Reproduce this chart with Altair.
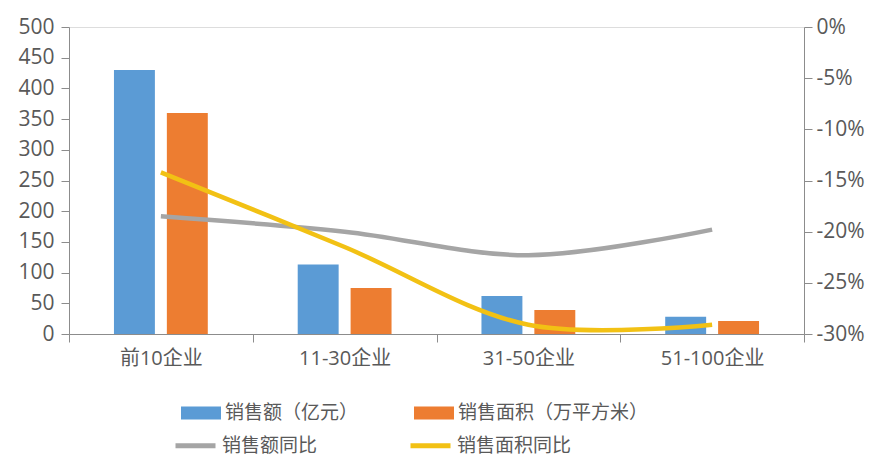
import altair as alt
import pandas as pd

categories = ["前10企业", "11-30企业", "31-50企业", "51-100企业"]
sales_amount = [430, 113, 62, 28]
sales_area = [360, 75, 39, 21]
amount_yoy = [-18.5, -20.0, -22.3, -19.8]
area_yoy = [-14.2, -21.5, -29.1, -29.1]

bar_series = ["销售额（亿元）", "销售面积（万平方米）"]
line_series = ["销售额同比", "销售面积同比"]

bars = pd.DataFrame(
    [{"cat": c, "series": bar_series[0], "v": v} for c, v in zip(categories, sales_amount)]
    + [{"cat": c, "series": bar_series[1], "v": v} for c, v in zip(categories, sales_area)]
)
lines = pd.DataFrame(
    [{"cat": c, "series2": line_series[0], "p": v} for c, v in zip(categories, amount_yoy)]
    + [{"cat": c, "series2": line_series[1], "p": v} for c, v in zip(categories, area_yoy)]
)

FONT = "Open Sans, Noto Sans CJK SC, sans-serif"
TXT = "#595959"
AX = "#8c8c8c"

xenc = alt.X(
    "cat:N",
    sort=categories,
    scale=alt.Scale(paddingInner=0, paddingOuter=0),
    axis=alt.Axis(
        title=None, labelAngle=0, tickBand="extent", domainColor=AX, tickColor=AX,
        tickSize=8, labelFontSize=20, labelColor=TXT, labelPadding=6, labelFont=FONT,
    ),
)

bar_layer = alt.Chart(bars).mark_bar().encode(
    x=xenc,
    xOffset=alt.XOffset("series:N", sort=bar_series,
                        scale=alt.Scale(paddingInner=0.226, paddingOuter=0.85)),
    y=alt.Y("v:Q", scale=alt.Scale(domain=[0, 500]),
            axis=alt.Axis(title=None, values=list(range(0, 501, 50)), grid=False,
                          domainColor=AX, tickColor=AX, tickSize=8, labelPadding=7,
                          labelFontSize=21, labelColor=TXT, labelFont=FONT)),
    color=alt.Color("series:N", sort=bar_series,
                    scale=alt.Scale(domain=bar_series, range=["#5B9BD5", "#ED7D31"]),
                    legend=alt.Legend(title=None, orient="none", legendX=112, legendY=366,
                                      columns=2, columnPadding=55, labelLimit=400,
                                      symbolType="M-1,-0.33L1,-0.33L1,0.33L-1,0.33Z",
                                      symbolSize=1600, symbolStrokeWidth=0,
                                      labelFontSize=19, labelColor=TXT, labelFont=FONT,
                                      labelOffset=4)),
)

line_layer = alt.Chart(lines).mark_line(interpolate="catmull-rom", strokeWidth=4.5).encode(
    x=xenc,
    y=alt.Y("p:Q", scale=alt.Scale(domain=[-30, 0]),
            axis=alt.Axis(title=None, orient="right", values=list(range(-30, 1, 5)),
                          labelExpr="datum.value + '%'", grid=False,
                          domainColor=AX, tickColor=AX, tickSize=8, labelPadding=4,
                          labelFontSize=21, labelColor=TXT, labelFont=FONT)),
    color=alt.Color("series2:N", sort=line_series,
                    scale=alt.Scale(domain=line_series, range=["#A5A5A5", "#F2C114"]),
                    legend=alt.Legend(title=None, orient="none", legendX=104, legendY=396,
                                      columns=2, columnPadding=82, labelLimit=400,
                                      symbolType="stroke", symbolSize=1600,
                                      symbolStrokeWidth=5,
                                      labelFontSize=19, labelColor=TXT, labelFont=FONT,
                                      labelOffset=4)),
)

chart = (
    alt.layer(bar_layer, line_layer)
    .resolve_scale(y="independent", color="independent")
    .properties(width=735, height=307,
                padding={"left": 9, "top": 8, "right": 5, "bottom": 5})
    .configure_view(stroke=None)
    .configure(background="white")
)

chart.save("out.html", embed_options={"renderer": "svg", "actions": False})
